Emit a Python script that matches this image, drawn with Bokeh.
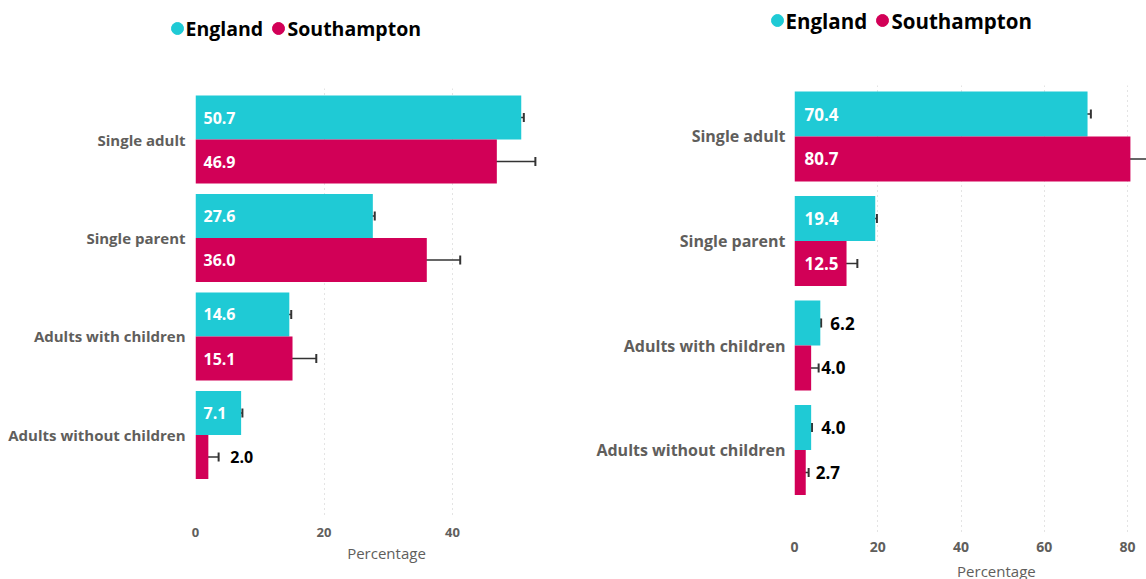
from bokeh.plotting import figure
from bokeh.models import (Range1d, FixedTicker, Whisker, TeeHead, ColumnDataSource, Label)
from bokeh.layouts import row, column
from bokeh.embed import file_html
from bokeh.resources import INLINE
from bokeh.core.properties import value

# ---------------- data ----------------
categories = ["Single adult", "Single parent", "Adults with children", "Adults without children"]
series = ["England", "Southampton"]

# left chart
left_england = [50.7, 27.6, 14.6, 7.1]
left_england_lo = [50.3, 27.3, 14.3, 6.9]
left_england_hi = [51.1, 27.9, 14.9, 7.3]
left_soton = [46.9, 36.0, 15.1, 2.0]
left_soton_lo = [41.1, 31.0, 11.9, 1.0]
left_soton_hi = [52.9, 41.2, 18.8, 3.6]
left_ticks = [0, 20, 40]

# right chart
right_england = [70.4, 19.4, 6.2, 4.0]
right_england_lo = [69.7, 19.1, 6.0, 3.8]
right_england_hi = [71.2, 19.8, 6.4, 4.2]
right_soton = [80.7, 12.5, 4.0, 2.7]
right_soton_lo = [75.4, 10.3, 2.9, 1.6]
right_soton_hi = [86.0, 15.1, 5.8, 3.4]
right_ticks = [0, 20, 40, 60, 80]

axis_title = "Percentage"

TEAL = "#1FCAD5"
CRIMSON = "#D20057"
GRAY = "#605E5C"
FONT_NAME = "Open Sans"
FONT = value(FONT_NAME)


def legend_fig(width, height, yc, circle_x, text_x, fs):
    """Legend strip: coloured dots followed by bold series names (pixel-like ranges)."""
    f = figure(width=width, height=height, x_range=Range1d(0, width), y_range=Range1d(height, 0),
               x_axis_type=None, y_axis_type=None, output_backend="svg",
               toolbar_location=None, min_border_left=0, min_border_right=0,
               min_border_top=0, min_border_bottom=0)
    f.outline_line_color = None
    f.scatter(x=circle_x, y=[yc] * len(series), marker="circle", size=12,
              fill_color=[TEAL, CRIMSON], line_color=[TEAL, CRIMSON])
    f.text(x=text_x, y=[yc] * len(series), text=series, text_font=FONT,
           text_font_style="bold", text_font_size=fs, text_color="black",
           text_align="left", text_baseline="middle")
    return f


def make_chart(eng, eng_lo, eng_hi, sot, sot_lo, sot_hi, ticks, s):
    frame_w = s["width"] - s["bl"] - s["br"]
    x_end = frame_w / s["ppu"]
    p = figure(width=s["width"], height=s["height"],
               x_range=Range1d(0, x_end), y_range=Range1d(s["y_bottom"], s["y_top"]),
               output_backend="svg", toolbar_location=None,
               min_border_left=s["bl"], min_border_right=s["br"],
               min_border_top=s["bt"], min_border_bottom=s["bb"])
    p.outline_line_color = None
    p.background_fill_color = "white"
    p.border_fill_color = "white"

    bh = s["bar_h"]
    idx = list(range(len(categories)))
    rows = [(eng, eng_lo, eng_hi, TEAL, -bh / 2),
            (sot, sot_lo, sot_hi, CRIMSON, bh / 2)]
    for vals, lo, hi, col, off in rows:
        ys = [i + off for i in idx]
        src = ColumnDataSource(dict(y=ys, v=vals, lo=lo, hi=hi))
        p.hbar(y="y", left=0, right="v", height=bh, source=src,
               fill_color=col, line_color=None)
        p.add_layout(Whisker(source=src, base="y", lower="lo", upper="hi",
                             dimension="width", line_color="#333333", line_width=1.5,
                             lower_head=TeeHead(size=9, line_color="#333333", line_width=2),
                             upper_head=TeeHead(size=9, line_color="#333333", line_width=2)))
        inside = [v * s["ppu"] >= 40 for v in vals]
        lx = [0 if ins else v for v, ins in zip(vals, inside)]
        lxo = [s["in_off"] if ins else s["out_off"] for ins in inside]
        lc = ["white" if ins else "black" for ins in inside]
        lt = ["%.1f" % v for v in vals]
        lsrc = ColumnDataSource(dict(x=lx, y=ys, t=lt, c=lc, xo=lxo))
        p.text(x="x", y="y", text="t", text_color="c", x_offset="xo", source=lsrc,
               text_font=FONT, text_font_style="bold", text_font_size=s["val_fs"],
               text_align="left", text_baseline="middle")

    p.xaxis.ticker = FixedTicker(ticks=ticks)
    p.xgrid.ticker = FixedTicker(ticks=ticks)
    p.xaxis.axis_line_color = None
    p.xaxis.major_tick_line_color = None
    p.xaxis.minor_tick_line_color = None
    p.xaxis.major_tick_in = 0
    p.xaxis.major_tick_out = 0
    p.xaxis.major_label_standoff = s["xlab_standoff"]
    p.xaxis.major_label_text_font = FONT_NAME
    p.xaxis.major_label_text_font_size = s["tick_fs"]
    p.xaxis.major_label_text_font_style = "bold"
    p.xaxis.major_label_text_color = GRAY

    p.yaxis.ticker = FixedTicker(ticks=idx)
    p.yaxis.major_label_overrides = {i: c for i, c in zip(idx, categories)}
    p.yaxis.axis_line_color = None
    p.yaxis.major_tick_line_color = None
    p.yaxis.minor_tick_line_color = None
    p.yaxis.major_tick_in = 0
    p.yaxis.major_tick_out = 0
    p.yaxis.major_label_standoff = s["ylab_standoff"]
    p.yaxis.major_label_text_font = FONT_NAME
    p.yaxis.major_label_text_font_size = s["cat_fs"]
    p.yaxis.major_label_text_font_style = "bold"
    p.yaxis.major_label_text_color = GRAY

    p.xgrid.grid_line_color = "#C8C8C8"
    p.xgrid.grid_line_dash = "1 4"
    p.xgrid.grid_line_width = 1
    p.ygrid.visible = False
    return p


# ---------------- left panel ----------------
left_spec = dict(width=585, height=529, bl=195, br=8, bt=38, bb=61, ppu=6.425,
                 y_top=-0.518, y_bottom=3.848, bar_h=0.447,
                 in_off=8, out_off=22, val_fs="16px",
                 xlab_standoff=9, tick_fs="13px", ylab_standoff=10, cat_fs="15px")
leg1 = legend_fig(585, 50, 28, [177, 278], [185, 287], "19.5px")
p1 = make_chart(left_england, left_england_lo, left_england_hi,
                left_soton, left_soton_lo, left_soton_hi, left_ticks, left_spec)
p1.xaxis.axis_label = axis_title
p1.xaxis.axis_label_standoff = 3
p1.xaxis.axis_label_text_font = FONT_NAME
p1.xaxis.axis_label_text_font_size = "15px"
p1.xaxis.axis_label_text_font_style = "normal"
p1.xaxis.axis_label_text_color = GRAY

# ---------------- right panel ----------------
right_spec = dict(width=561, height=510, bl=209, br=0, bt=35, bb=25, ppu=4.1625,
                  y_top=-0.488, y_bottom=3.818, bar_h=0.43,
                  in_off=10, out_off=10, val_fs="17px",
                  xlab_standoff=6, tick_fs="14px", ylab_standoff=9, cat_fs="16px")
leg2 = legend_fig(561, 50, 20, [192, 297], [200, 306], "20.5px")
p2 = make_chart(right_england, right_england_lo, right_england_hi,
                right_soton, right_soton_lo, right_soton_hi, right_ticks, right_spec)

# axis title of the right chart (its axis runs on past the visible edge)
t2 = figure(width=561, height=19, x_range=p2.x_range, y_range=Range1d(0, 1),
            x_axis_type=None, y_axis_type=None, output_backend="svg",
            toolbar_location=None, min_border_left=209, min_border_right=0,
            min_border_top=0, min_border_bottom=0)
t2.outline_line_color = None
t2.add_layout(Label(x=48.5, y=1, x_units="data", y_units="data", text=axis_title,
                    text_align="center", text_baseline="top", text_font=FONT_NAME,
                    text_font_size="15px", text_color=GRAY))

layout = column(row(leg1, leg2), row(column(p1), column(p2, t2)))
open("out.html", "w").write(file_html(layout, INLINE))
